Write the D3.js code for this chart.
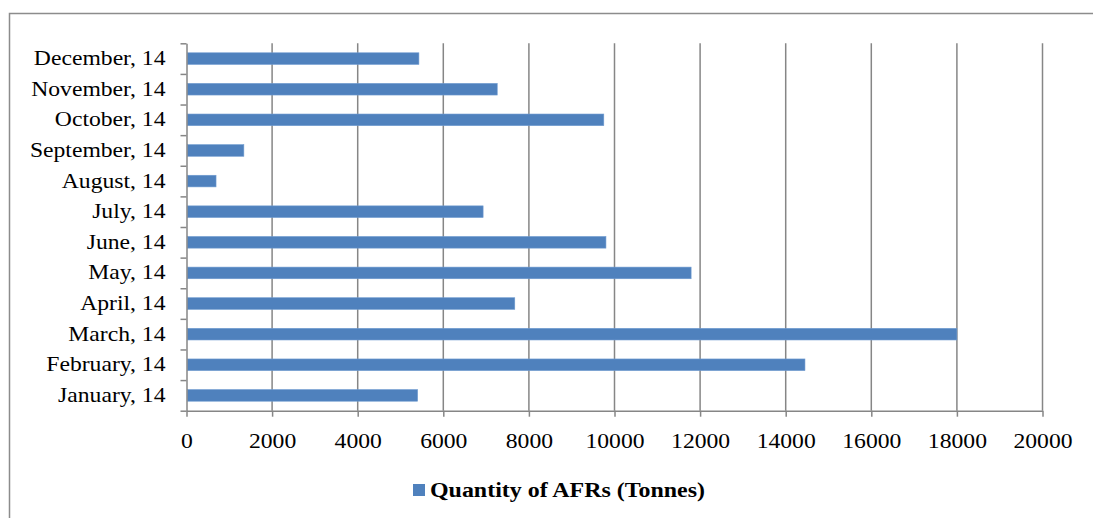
<!DOCTYPE html>
<html>
<head>
<meta charset="utf-8">
<script src="https://cdn.jsdelivr.net/npm/d3@7/dist/d3.min.js"></script>
<style>
  html, body { margin: 0; padding: 0; background: #ffffff; }
  svg { display: block; }
  text { font-family: "Liberation Serif", "Times New Roman", Times, serif; fill: #000; }
</style>
</head>
<body>
<svg id="chart" width="1093" height="518"></svg>
<script>
// Monthly quantity of alternative fuels and raw materials (tonnes), 2014
const months = ["January, 14", "February, 14", "March, 14", "April, 14", "May, 14", "June, 14",
                "July, 14", "August, 14", "September, 14", "October, 14", "November, 14", "December, 14"];
const quantities = [5400, 14450, 18000, 7670, 11790, 9800, 6930, 690, 1340, 9750, 7260, 5430];
const xTickValues = [0, 2000, 4000, 6000, 8000, 10000, 12000, 14000, 16000, 18000, 20000];
const seriesName = "Quantity of AFRs (Tonnes)";

const svg = d3.select("#chart");
const gridColor = "#868686";
const barColor = "#4f81bd";
const serif = "'Liberation Serif', 'Times New Roman', Times, serif";
const widen = 1.1; // slightly wide lettering

const plot = { left: 186.5, right: 1042.5, top: 43.3, bottom: 410.7 };

const x = d3.scaleLinear().domain([0, 20000]).range([plot.left, plot.right]);
const y = d3.scaleBand().domain(months).range([plot.bottom, plot.top])
  .paddingInner(0.62).paddingOuter(0.31);
const yEdge = d3.scaleLinear().domain([0, months.length]).range([plot.bottom, plot.top]);

// stretch a text element horizontally around its own anchor x
function stretch(sel, k) {
  sel.attr("transform", function () {
    const ax = +this.getAttribute("x") || 0;
    return `translate(${ax},0) scale(${k},1) translate(${-ax},0)`;
  });
}

// outer frame (top and left edges only)
svg.append("path")
  .attr("d", "M9.5,518 L9.5,13.5 L1093,13.5")
  .attr("fill", "none").attr("stroke", "#8c8c8c").attr("stroke-width", 1.5);

// vertical gridlines
svg.append("g").selectAll("line")
  .data(xTickValues.filter(v => v > 0))
  .join("line")
  .attr("x1", d => x(d)).attr("x2", d => x(d))
  .attr("y1", plot.top).attr("y2", plot.bottom)
  .attr("stroke", gridColor).attr("stroke-width", 1.5);

// bars
svg.append("g").selectAll("rect")
  .data(months.map((m, i) => ({ m, v: quantities[i] })))
  .join("rect")
  .attr("x", x(0) + 0.75)
  .attr("y", d => y(d.m))
  .attr("width", d => x(d.v) - x(0) - 0.75)
  .attr("height", y.bandwidth())
  .attr("fill", barColor)
  .attr("stroke", "#6f9bd0").attr("stroke-width", 0.6);

// x axis
const xAxis = svg.append("g")
  .attr("transform", `translate(0,${plot.bottom})`)
  .call(d3.axisBottom(x).tickValues(xTickValues).tickSize(6).tickSizeOuter(0).tickFormat(d3.format("d")));
xAxis.attr("font-family", null).attr("font-size", null);
xAxis.select(".domain").attr("stroke", gridColor).attr("stroke-width", 1.5);
xAxis.selectAll(".tick line").attr("stroke", gridColor).attr("stroke-width", 1.5);
xAxis.selectAll(".tick text")
  .attr("y", 37).attr("dy", null)
  .style("font-size", "21.5px").style("font-family", serif).attr("fill", "#000")
  .call(stretch, widen);

// y axis: boundary ticks
const yTicks = svg.append("g")
  .attr("transform", `translate(${plot.left},0)`)
  .call(d3.axisLeft(yEdge).ticks(months.length).tickSize(6).tickSizeOuter(0).tickFormat(""));
yTicks.select(".domain").attr("stroke", gridColor).attr("stroke-width", 1.5);
yTicks.selectAll(".tick line").attr("stroke", gridColor).attr("stroke-width", 1.5);

// y axis: category labels
const yLabels = svg.append("g")
  .attr("transform", `translate(${plot.left},0)`)
  .call(d3.axisLeft(y).tickSize(0).tickPadding(21));
yLabels.attr("font-family", null).attr("font-size", null);
yLabels.select(".domain").remove();
yLabels.selectAll(".tick text")
  .attr("dy", "0.3em")
  .style("font-size", "21.5px").style("font-family", serif).attr("fill", "#000")
  .call(stretch, widen);

// legend
const legend = svg.append("g").attr("transform", "translate(413,484)");
legend.append("rect").attr("width", 12).attr("height", 12).attr("fill", barColor);
legend.append("text")
  .attr("x", 17).attr("y", 13)
  .style("font-size", "21px").style("font-weight", "bold").style("font-family", serif)
  .text(seriesName)
  .call(stretch, 1.14);
</script>
</body>
</html>
